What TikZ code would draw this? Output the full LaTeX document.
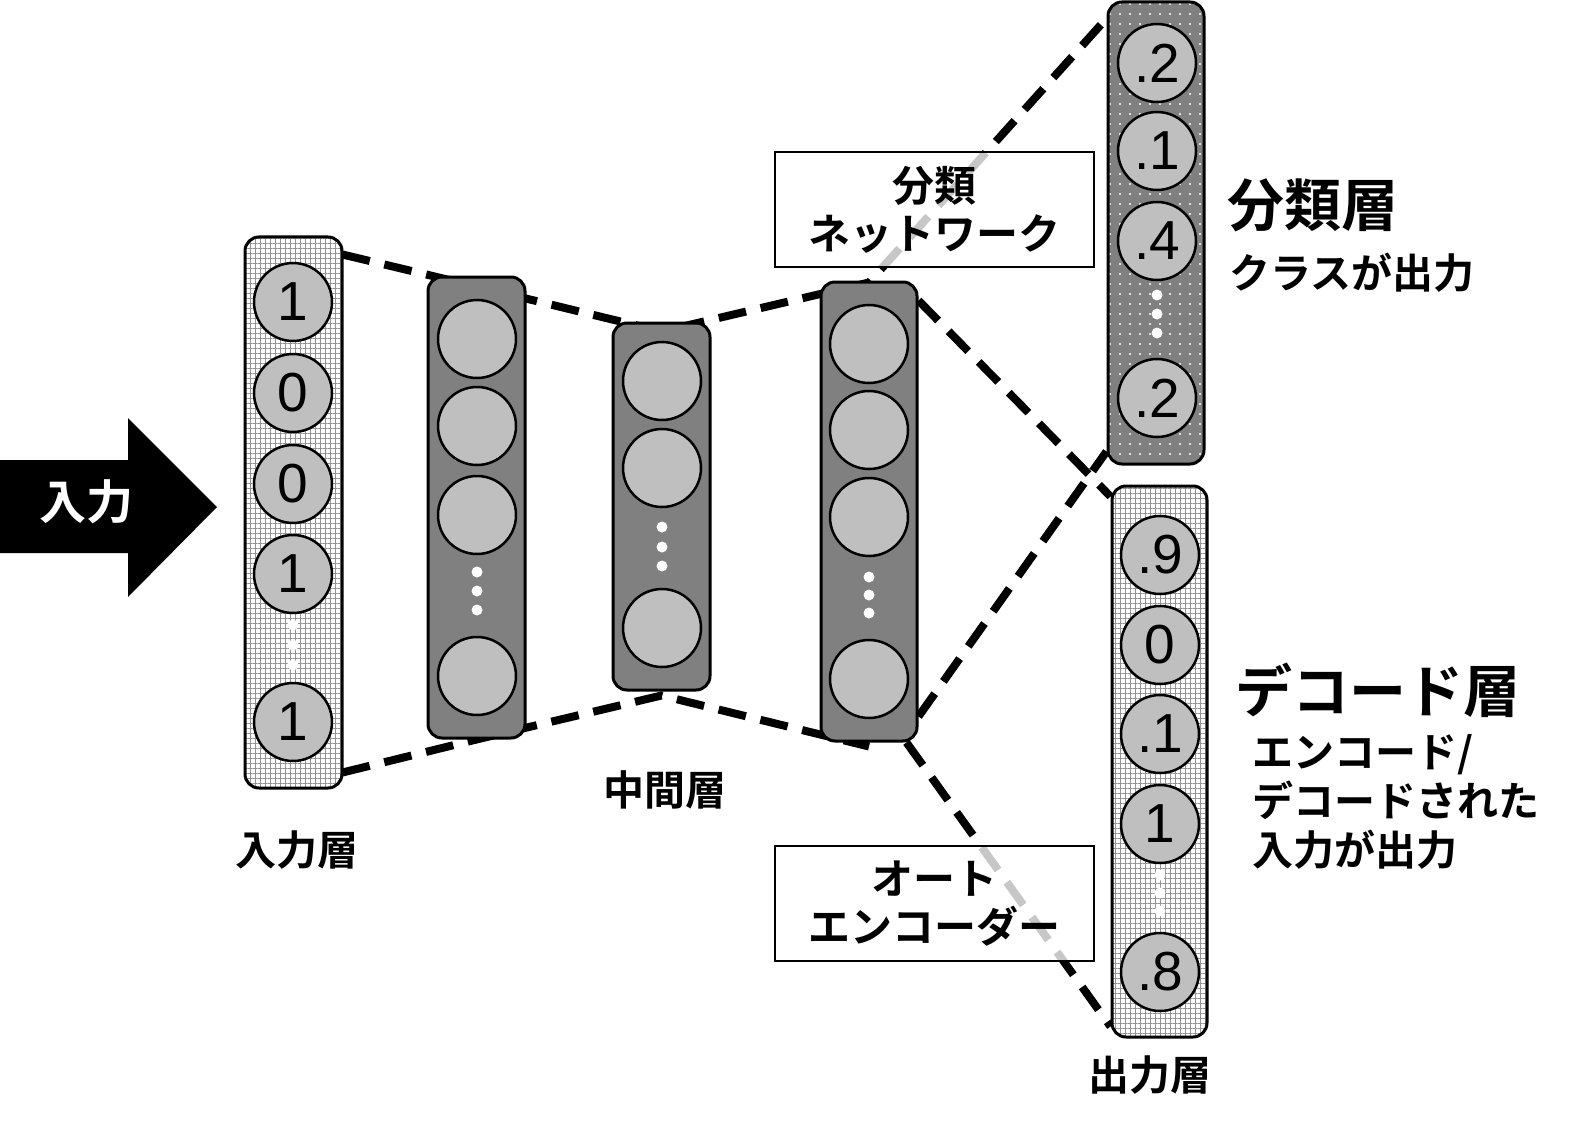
\documentclass[tikz,border=0pt]{standalone}
\usepackage{fontspec}
\setmainfont{Liberation Sans}
\newfontfamily\jp{Noto Sans CJK JP Bold}
\usetikzlibrary{patterns.meta,backgrounds}

\begin{document}
\begin{tikzpicture}[x=1pt, y=-1pt,
    layer/.style={draw, line width=3pt, rounded corners=14pt, inner sep=0pt},
    gridded/.style={layer, preaction={fill=white},
      pattern={Hatch[distance=5pt, angle=0, line width=1pt]}, pattern color=gray!85},
    shaded/.style={layer, fill=gray},
    speckled/.style={layer, preaction={fill=gray},
      pattern={Dots[distance=10pt, radius=1.2pt]}, pattern color=white},
    neuron/.style={circle, draw, line width=2.5pt, fill=gray!50, minimum size=78pt,
      inner sep=0pt, font=\fontsize{55}{55}\selectfont},
    spot/.style={circle, fill=white, inner sep=0pt, minimum size=11pt},
    wire/.style={line width=8pt, dash pattern=on 28pt off 15pt},
    note/.style={draw, line width=1.5pt, fill=white, fill opacity=0.78, text opacity=1,
      minimum width=319pt, minimum height=115pt, align=center,
      font=\jp\fontsize{42}{48}\selectfont},
    caption/.style={font=\jp\fontsize{41}{49}\selectfont},
    title/.style={font=\jp\fontsize{57}{60}\selectfont}]
  \useasboundingbox (0,0) rectangle (1574,1134);

  % input arrow
  \fill (0,460) -- (128,460) -- (128,418) -- (217,507) -- (128,597) -- (128,553)
    -- (0,553) -- cycle;
  \node[font=\jp\fontsize{47}{47}\selectfont, text=white] (inarrow) at (86,502) {入力};

  % layers
  \node[gridded, minimum width=97pt, minimum height=551pt] (in) at (293.5,512.5) {};
  \node[shaded, minimum width=97pt, minimum height=461pt] (h1) at (476.5,507.5) {};
  \node[shaded, minimum width=97pt, minimum height=367pt] (mid) at (661.5,506.5) {};
  \node[shaded, minimum width=96pt, minimum height=459pt] (h3) at (869,511.5) {};
  \node[speckled, minimum width=96pt, minimum height=462pt] (cls) at (1156,233) {};
  \node[gridded, minimum width=95pt, minimum height=551pt] (dec) at (1159.5,761.5) {};

  % neurons
  \foreach \y/\t [count=\i] in {302/1, 393/0, 484/0, 574/1, 722/1}
    \node[neuron] (in\i) at (293,\y) {\t};
  \foreach \y [count=\i] in {339, 426, 515, 676}
    \node[neuron] (ha\i) at (477,\y) {};
  \foreach \y [count=\i] in {381, 468, 628}
    \node[neuron] (m\i) at (662,\y) {};
  \foreach \y [count=\i] in {344, 430, 517, 679}
    \node[neuron] (hb\i) at (869,\y) {};
  \foreach \y/\t [count=\i] in {63/.2, 151/.1, 241/.4, 398/.2}
    \node[neuron] (c\i) at (1157,\y) {\t};
  \foreach \y/\t [count=\i] in {555/.9, 645/0, 734/.1, 824/1, 972/.8}
    \node[neuron] (d\i) at (1160,\y) {\t};

  % dots
  \foreach \x/\a/\b/\c in {293/625/645/665, 477/572/591/610, 662/527/547/566,
      869/577/595/613, 1157/295/314/333, 1160/875/893/911} {
    \node[spot] at (\x,\a) {};
    \node[spot] at (\x,\b) {};
    \node[spot] at (\x,\c) {};
  }

  % connections
  \begin{scope}[on background layer]
    \draw[wire] ([yshift=-18pt]in.north east) -- ([yshift=-11pt]h1.north)
      -- ([yshift=-10pt]mid.north) -- ([yshift=-2pt]h3.north)
      -- ([yshift=-18pt]cls.north west);
    \draw[wire] ([yshift=16pt]in.south east) -- (h1.south)
      -- ([yshift=-4pt]mid.south) -- ([yshift=-4pt]h3.south);
    \draw[wire] ([yshift=-20pt]h3.north east) -- ([yshift=-12pt]dec.north west);
    \draw[wire] ([yshift=26pt]h3.south east) -- ([yshift=14pt]cls.south west);
    \draw[wire] ([xshift=-12pt]h3.south east) -- ([yshift=12pt]dec.south west);
  \end{scope}

  % boxes
  \node[note] (clsnet) at (934.5,209.5) {分類\\ネットワーク};
  \node[note] (autoenc) at (934.5,903.5) {オート\\エンコーダー};

  % labels
  \node[caption] (inlabel) at (297,850) {入力層};
  \node[caption] (midlabel) at (665,790) {中間層};
  \node[caption] (outlabel) at (1150,1075) {出力層};
  \node[title] (clstitle) at (1313,205) {分類層};
  \node[caption] (clstext) at (1352,273) {クラスが出力};
  \node[title] (dectitle) at (1378,690) {デコード層};
  \node[caption, align=left, anchor=west] (dectext) at (1249,802)
    {エンコード/\\デコードされた\\入力が出力};
\end{tikzpicture}
\end{document}
